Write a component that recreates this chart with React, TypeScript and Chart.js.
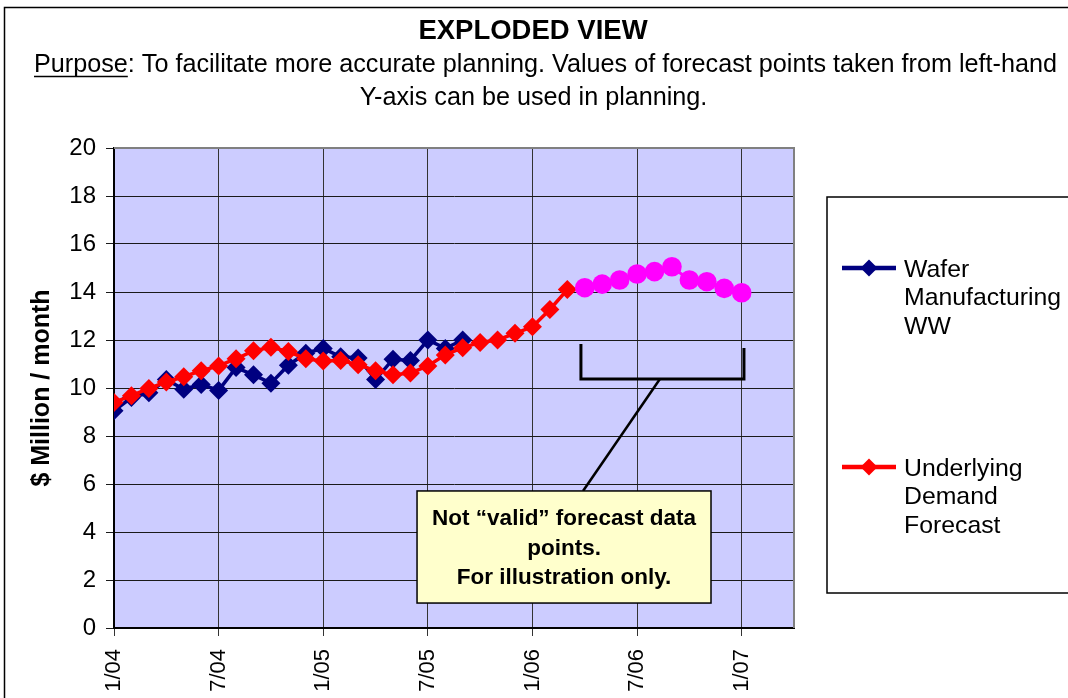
import React, { useEffect, useRef } from 'react';
import { Chart, registerables } from 'chart.js';

Chart.register(...registerables);

const FONT = '"Liberation Sans", Arial, Helvetica, sans-serif';

// X axis: months since 1/04
const xTickMonths = [0, 6, 12, 18, 24, 30, 36];
const xTickLabels = ['1/04', '7/04', '1/05', '7/05', '1/06', '7/06', '1/07'];
const xMin = 0;
const xMax = 39;

// Wafer Manufacturing WW, monthly from 1/04
const waferStart = 0;
const waferValues = [
  9.05, 9.6, 9.8, 10.35, 9.95, 10.15, 9.9, 10.85, 10.55, 10.2, 10.95, 11.45,
  11.65, 11.3, 11.25, 10.35, 11.2, 11.15, 12.0, 11.65, 12.0,
];

// Underlying Demand Forecast, monthly from 1/04
const demandStart = 0;
const demandValues = [
  9.4, 9.68, 9.98, 10.25, 10.47, 10.72, 10.92, 11.22, 11.55, 11.7, 11.52, 11.22,
  11.12, 11.15, 10.97, 10.72, 10.55, 10.62, 10.92, 11.38, 11.68, 11.9, 12.0, 12.28,
  12.55, 13.27, 14.1,
];

// Illustration-only forecast points (magenta), monthly from 4/06
const illusStart = 27;
const illusValues = [14.18, 14.33, 14.5, 14.75, 14.85, 15.05, 14.5, 14.43, 14.15, 13.97];

const seriesNames = ['Wafer Manufacturing WW', 'Underlying Demand Forecast'];
const legendLines = [
  ['Wafer', 'Manufacturing', 'WW'],
  ['Underlying', 'Demand', 'Forecast'],
];

const yTicksMin = 0;
const yTicksMax = 20;
const yStep = 2;

const titleText = 'EXPLODED VIEW';
const subtitlePrefix = 'Purpose';
const subtitleLine1Rest = ': To facilitate more accurate planning. Values of forecast points taken from left-hand';
const subtitleLine2 = 'Y-axis can be used in planning.';
const calloutLines = ['Not \u201cvalid\u201d forecast data', 'points.', 'For illustration only.'];

const toPoints = (start: number, vals: number[]) => vals.map((v, i) => ({ x: start + i, y: v }));

const BLUE = '#000080';
const RED = '#FF0000';
const MAGENTA = '#FF00FF';

function diamond(ctx: CanvasRenderingContext2D, x: number, y: number, r: number, color: string) {
  ctx.beginPath();
  ctx.moveTo(x, y - r);
  ctx.lineTo(x + r, y);
  ctx.lineTo(x, y + r);
  ctx.lineTo(x - r, y);
  ctx.closePath();
  ctx.fillStyle = color;
  ctx.fill();
}

const decorPlugin = {
  id: 'decor',
  beforeDraw(chart: any) {
    const { ctx, chartArea } = chart;
    ctx.save();
    ctx.fillStyle = '#FFFFFF';
    ctx.fillRect(0, 0, chart.width, chart.height);
    ctx.strokeStyle = '#000000';
    ctx.lineWidth = 1.5;
    ctx.strokeRect(4.5, 7.5, 1075, 720);
    ctx.fillStyle = '#CCCCFF';
    ctx.fillRect(chartArea.left, chartArea.top, chartArea.right - chartArea.left, chartArea.bottom - chartArea.top);
    ctx.restore();
  },
  afterDatasetsDraw(chart: any) {
    const { ctx, chartArea, scales } = chart;
    const xs = scales.x;
    const ys = scales.y;
    ctx.save();
    // plot border top/right
    ctx.strokeStyle = '#808080';
    ctx.lineWidth = 2;
    ctx.beginPath();
    ctx.moveTo(chartArea.left, chartArea.top);
    ctx.lineTo(chartArea.right, chartArea.top);
    ctx.lineTo(chartArea.right, chartArea.bottom);
    ctx.stroke();

    // bracket over illustration points
    const bx0 = xs.getPixelForValue(26.78);
    const bx1 = xs.getPixelForValue(36.13);
    const byL = ys.getPixelForValue(11.83);
    const byR = ys.getPixelForValue(11.67);
    const byB = ys.getPixelForValue(10.375);
    ctx.strokeStyle = '#000000';
    ctx.lineWidth = 3;
    ctx.lineJoin = 'miter';
    ctx.beginPath();
    ctx.moveTo(bx0, byL);
    ctx.lineTo(bx0, byB);
    ctx.lineTo(bx1, byB);
    ctx.lineTo(bx1, byR);
    ctx.stroke();

    // connector
    ctx.lineWidth = 2.5;
    ctx.beginPath();
    ctx.moveTo(xs.getPixelForValue(31.31), byB);
    ctx.lineTo(xs.getPixelForValue(26.9), ys.getPixelForValue(5.71));
    ctx.stroke();

    // callout box
    const cx0 = xs.getPixelForValue(17.38);
    const cx1 = xs.getPixelForValue(34.24);
    const cy0 = ys.getPixelForValue(5.71);
    const cy1 = ys.getPixelForValue(1.04);
    ctx.fillStyle = '#FFFFCC';
    ctx.fillRect(cx0, cy0, cx1 - cx0, cy1 - cy0);
    ctx.lineWidth = 1.5;
    ctx.strokeStyle = '#000000';
    ctx.strokeRect(cx0, cy0, cx1 - cx0, cy1 - cy0);
    ctx.fillStyle = '#000000';
    ctx.font = `bold 22.5px ${FONT}`;
    ctx.textAlign = 'center';
    ctx.textBaseline = 'middle';
    const ccx = (cx0 + cx1) / 2;
    calloutLines.forEach((t, i) => ctx.fillText(t, ccx, cy0 + 28 + i * 29.5));
    ctx.restore();
  },
  afterDraw(chart: any) {
    const { ctx } = chart;
    ctx.save();
    ctx.fillStyle = '#000000';
    ctx.textBaseline = 'middle';
    // title
    ctx.textAlign = 'center';
    ctx.font = `bold 27.5px ${FONT}`;
    ctx.fillText(titleText, 533, 31);
    // subtitle
    ctx.font = `25.2px ${FONT}`;
    const full = subtitlePrefix + subtitleLine1Rest;
    const w = ctx.measureText(full).width;
    const left = 545.5 - w / 2;
    ctx.textAlign = 'left';
    ctx.fillText(full, left, 65);
    const pw = ctx.measureText(subtitlePrefix).width;
    ctx.strokeStyle = '#000000';
    ctx.lineWidth = 1.5;
    ctx.beginPath();
    ctx.moveTo(left, 76.5);
    ctx.lineTo(left + pw, 76.5);
    ctx.stroke();
    ctx.textAlign = 'center';
    ctx.fillText(subtitleLine2, 533.5, 98);

    // legend box
    ctx.strokeStyle = '#000000';
    ctx.lineWidth = 1.5;
    ctx.strokeRect(827, 197, 260, 396);
    const colors = [BLUE, RED];
    const ys = [268, 467];
    ctx.font = `24.8px ${FONT}`;
    ctx.textAlign = 'left';
    colors.forEach((c, i) => {
      const y = ys[i];
      ctx.strokeStyle = c;
      ctx.lineWidth = 4.5;
      ctx.beginPath();
      ctx.moveTo(842, y);
      ctx.lineTo(896, y);
      ctx.stroke();
      diamond(ctx, 869, y, 8.5, c);
      ctx.fillStyle = '#000000';
      legendLines[i].forEach((t, j) => ctx.fillText(t, 904, y + 2 + j * 28.5));
    });
    ctx.restore();
  },
};

export default function App() {
  const ref = useRef<HTMLCanvasElement>(null);
  useEffect(() => {
    const canvas = ref.current;
    if (!canvas) return;
    const chart = new Chart(canvas, {
      type: 'line',
      data: {
        datasets: [
          {
            label: 'illustration',
            data: toPoints(illusStart, illusValues),
            borderColor: MAGENTA,
            backgroundColor: MAGENTA,
            borderWidth: 3,
            pointStyle: 'circle',
            pointRadius: 9.8,
            pointBorderWidth: 0,
            pointBackgroundColor: MAGENTA,
          },
          {
            label: seriesNames[1],
            data: toPoints(demandStart, demandValues),
            borderColor: RED,
            backgroundColor: RED,
            borderWidth: 3.5,
            pointStyle: 'rectRot',
            pointRadius: 9.5,
            pointBorderWidth: 0,
            pointBackgroundColor: RED,
          },
          {
            label: seriesNames[0],
            data: toPoints(waferStart, waferValues),
            borderColor: BLUE,
            backgroundColor: BLUE,
            borderWidth: 3.5,
            pointStyle: 'rectRot',
            pointRadius: 9.5,
            pointBorderWidth: 0,
            pointBackgroundColor: BLUE,
          },
        ],
      },
      options: {
        responsive: false,
        animation: false,
        devicePixelRatio: 1,
        layout: { padding: { top: 148, right: 274, bottom: 0, left: 0 } },
        plugins: {
          legend: { display: false },
          tooltip: { enabled: false },
          title: { display: false },
        },
        scales: {
          x: {
            type: 'linear',
            min: xMin,
            max: xMax,
            afterBuildTicks: (scale: any) => {
              scale.ticks = xTickMonths.map((v) => ({ value: v }));
            },
            afterFit: (scale: any) => {
              scale.height = 70;
            },
            ticks: {
              autoSkip: false,
              minRotation: 90,
              maxRotation: 90,
              padding: 13,
              color: '#000000',
              font: { family: FONT, size: 22 },
              callback: (v: any) => {
                const idx = xTickMonths.indexOf(Number(v));
                return idx >= 0 ? xTickLabels[idx] : '';
              },
            },
            grid: { color: '#333333', lineWidth: 1, tickLength: 8, drawTicks: true },
            border: { display: true, color: '#000000', width: 2 },
          },
          y: {
            min: yTicksMin,
            max: yTicksMax,
            afterFit: (scale: any) => {
              scale.width = 114;
            },
            ticks: {
              stepSize: yStep,
              padding: 10,
              color: '#000000',
              font: { family: FONT, size: 24 },
            },
            grid: { color: '#1a1a1a', lineWidth: 1, tickLength: 8 },
            border: { display: true, color: '#000000', width: 2 },
            title: {
              display: true,
              text: '$ Million / month',
              color: '#000000',
              font: { family: FONT, size: 25, weight: 'bold' },
              padding: { top: 27, bottom: 0 },
            },
          },
        },
      },
      plugins: [decorPlugin],
    } as any);
    return () => chart.destroy();
  }, []);
  return (
    <div style={{ position: 'fixed', left: 0, top: 0, width: 1068, height: 698, background: '#ffffff' }}>
      <canvas ref={ref} width={1068} height={698} style={{ display: 'block', width: 1068, height: 698 }} />
    </div>
  );
}
